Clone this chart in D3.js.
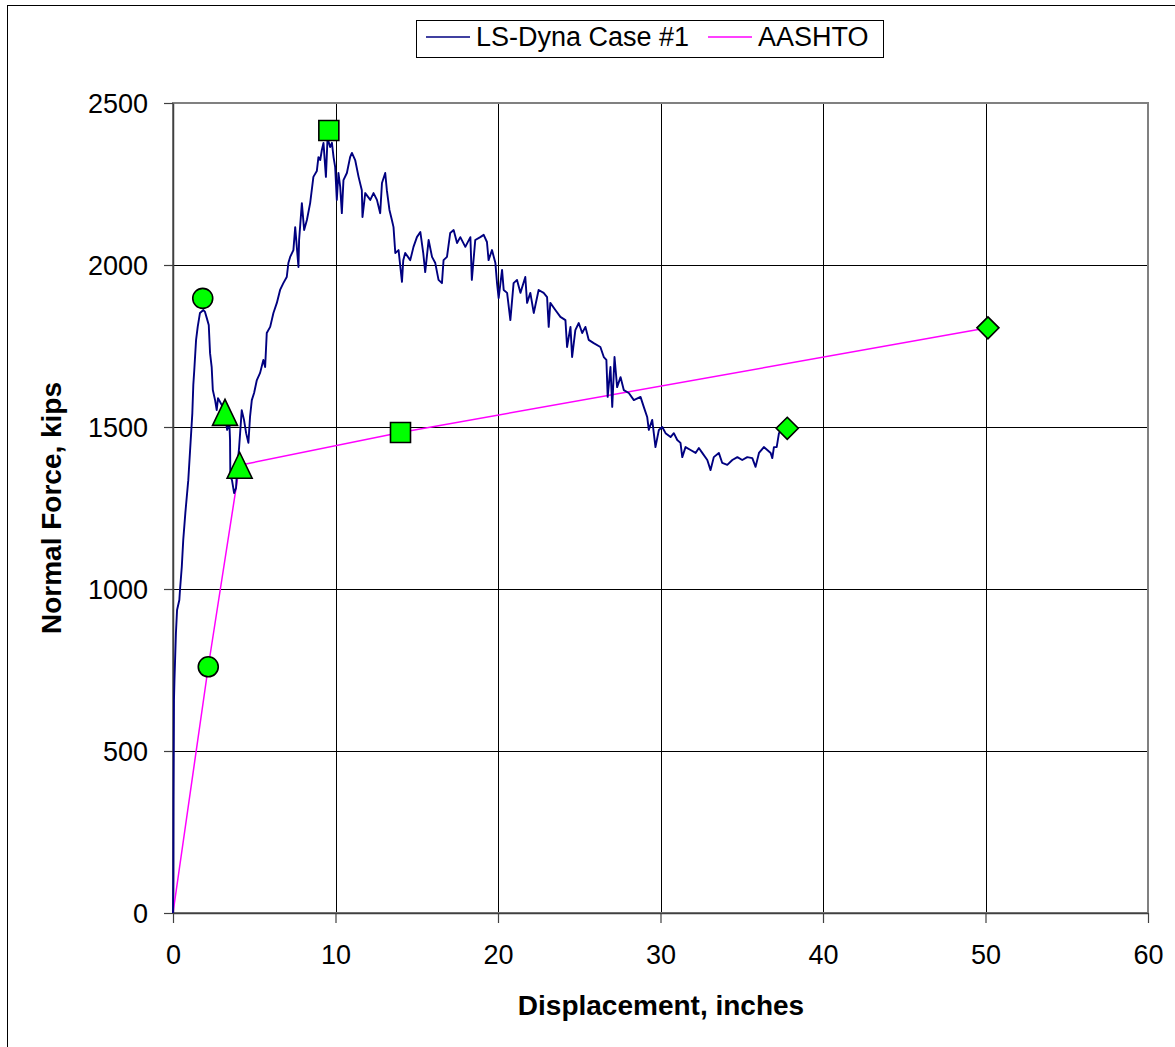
<!DOCTYPE html>
<html lang="en">
<head>
<meta charset="utf-8" />
<title>Normal Force vs Displacement</title>
<style>
  body{margin:0;background:#fff;}
  svg{display:block;font-family:"Liberation Sans",Arial,sans-serif;}
  .tick text{font-size:27px;fill:#000;}
  .axis-title{font-size:28px;font-weight:bold;fill:#000;}
  .legend-text{font-size:27px;fill:#000;}
</style>
<script src="https://cdn.jsdelivr.net/npm/d3@7.9.0/dist/d3.min.js"></script>
</head>
<body>
<div id="chart"></div>
<script>
/* ───────── DATA ───────── */
const dynaDisp = [
  0,0.02,0.03,0.06,0.09,0.18,0.25,0.39,0.43,0.54,
  0.63,0.76,0.94,1.09,1.19,1.25,1.31,1.42,1.52,1.66,
  1.87,1.97,2.08,2.20,2.28,2.38,2.45,2.59,2.69,2.77,
  2.90,3.06,3.20,3.33,3.47,3.51,3.53,3.63,3.76,3.88,
  3.94,4.07,4.23,4.37,4.50,4.64,4.74,4.85,4.99,5.16,
  5.36,5.56,5.67,5.77,5.98,6.18,6.39,6.59,6.79,7.00,
  7.10,7.21,7.41,7.52,7.72,7.76,7.93,8.07,8.24,8.44,
  8.64,8.85,8.95,9.06,9.16,9.26,9.41,9.51,9.67,9.78,
  9.88,9.98,10.08,10.18,10.29,10.39,10.49,10.70,10.90,11.01,
  11.21,11.42,11.62,11.66,11.83,12.14,12.34,12.55,12.75,12.86,
  13.06,13.16,13.32,13.47,13.57,13.68,13.88,14.09,14.17,14.29,
  14.60,14.80,15.01,15.22,15.40,15.52,15.73,15.94,16.14,16.34,
  16.55,16.65,16.86,17.06,17.27,17.48,17.68,17.99,18.30,18.39,
  18.60,18.91,19.12,19.32,19.42,19.63,19.84,19.94,20.04,20.25,
  20.35,20.56,20.76,20.96,21.17,21.38,21.68,21.79,21.99,22.20,
  22.50,22.81,23.02,23.12,23.22,23.53,23.84,24.15,24.25,24.46,
  24.56,24.76,24.97,25.18,25.38,25.58,25.89,26.30,26.51,26.67,
  26.75,26.92,27.03,27.17,27.33,27.54,27.74,28.05,28.36,28.77,
  28.97,29.18,29.28,29.49,29.69,29.90,30.11,30.31,30.62,30.82,
  31.03,31.23,31.34,31.54,31.85,32.16,32.36,32.57,32.88,33.08,
  33.28,33.59,33.80,34.11,34.42,34.73,35.03,35.34,35.65,35.85,
  36.06,36.36,36.57,36.78,36.88,36.98,37.15,37.29,37.50,37.70
];
const dynaForce = [
  0,102,349,657,719,864,935,966,997,1068,
  1151,1235,1336,1460,1543,1630,1676,1769,1809,1852,
  1861,1855,1836,1815,1728,1685,1614,1583,1552,1589,
  1577,1562,1543,1491,1512,1460,1346,1336,1296,1312,
  1367,1438,1552,1522,1481,1451,1531,1583,1605,1645,
  1667,1707,1685,1790,1809,1852,1883,1923,1944,1963,
  2006,2025,2046,2117,1994,2077,2191,2108,2139,2191,
  2272,2290,2333,2324,2355,2377,2272,2392,2364,2377,
  2333,2302,2201,2284,2241,2160,2262,2284,2333,2346,
  2324,2272,2231,2148,2222,2201,2222,2201,2160,2253,
  2284,2231,2170,2139,2117,2037,2046,1948,2015,2037,
  2015,2056,2086,2102,2037,1978,2077,2025,2006,1954,
  1944,2015,2025,2099,2108,2068,2086,2056,2086,1954,
  2077,2086,2093,2071,2015,2046,2006,1944,1898,1985,
  1923,1914,1830,1944,1954,1914,1963,1883,1914,1852,
  1923,1914,1901,1809,1883,1861,1840,1830,1747,1809,
  1716,1799,1821,1790,1809,1769,1759,1747,1716,1707,
  1593,1685,1562,1716,1623,1654,1614,1605,1583,1593,
  1562,1531,1491,1522,1438,1491,1500,1481,1469,1481,
  1460,1451,1407,1438,1429,1420,1435,1420,1398,1367,
  1407,1420,1389,1383,1398,1407,1398,1407,1404,1377,
  1420,1438,1429,1420,1404,1438,1438,1481,1491,1497
];

const aashtoDisp  = [0, 2.17, 4.10, 14.0, 50.15];
const aashtoForce = [0, 760, 1382, 1483, 1806];

// highlighted points (green markers)
const markDisp  = [1.83, 2.17, 3.20, 4.10, 9.59, 14.0, 37.80, 50.15];
const markForce = [1897, 760, 1545, 1382, 2415, 1483, 1496, 1806];
const markShape = ['circle','circle','triangle','triangle','square','square','diamond','diamond'];

const xTicks = [0,10,20,30,40,50,60];
const yTicks = [0,500,1000,1500,2000,2500];

const seriesNames = ['LS-Dyna Case #1','AASHTO'];

/* ───────── CONFIG ───────── */
const W = 1175, H = 1047;
const P = {left:173, right:1148, top:103, bottom:913};
const BLUE = '#000080', MAG = '#ff00ff', GREEN = '#00ff00';

const svg = d3.select('#chart').append('svg')
  .attr('width',W).attr('height',H);

svg.append('rect').attr('width',W).attr('height',H).attr('fill','#fff');

// outer chart frame (runs off the right/bottom edge)
svg.append('rect')
  .attr('x',7.5).attr('y',5.5).attr('width',1300).attr('height',1200)
  .attr('fill','none').attr('stroke','#000').attr('stroke-width',1);

const x = d3.scaleLinear([0,60],[P.left,P.right]);
const y = d3.scaleLinear([0,2500],[P.bottom,P.top]);

/* grid */
const grid = svg.append('g').attr('shape-rendering','crispEdges');
grid.selectAll('.hg').data(yTicks.slice(1,-1)).join('line')
  .attr('x1',P.left).attr('x2',P.right)
  .attr('y1',d=>Math.round(y(d))+0.5).attr('y2',d=>Math.round(y(d))+0.5)
  .attr('stroke','#000').attr('stroke-width',1);
grid.selectAll('.vg').data(xTicks.slice(1,-1)).join('line')
  .attr('y1',P.top).attr('y2',P.bottom)
  .attr('x1',d=>Math.round(x(d))+0.5).attr('x2',d=>Math.round(x(d))+0.5)
  .attr('stroke','#000').attr('stroke-width',1);

// plot area border (grey)
svg.append('rect')
  .attr('x',P.left).attr('y',P.top)
  .attr('width',P.right-P.left).attr('height',P.bottom-P.top)
  .attr('fill','none').attr('stroke','#808080').attr('stroke-width',2);

/* axes */
const yAxis = d3.axisLeft(y).tickValues(yTicks).tickFormat(d3.format('d'))
  .tickSize(9).tickSizeOuter(0).tickPadding(16);
const xAxis = d3.axisBottom(x).tickValues(xTicks).tickFormat(d3.format('d'))
  .tickSize(10).tickSizeOuter(0).tickPadding(22);

const gy = svg.append('g').attr('transform',`translate(${P.left},0)`).call(yAxis);
const gx = svg.append('g').attr('transform',`translate(0,${P.bottom})`).call(xAxis);
[gy,gx].forEach(g=>{
  g.select('.domain').attr('stroke','#404040').attr('stroke-width',1.5);
  g.selectAll('.tick line').attr('stroke','#404040').attr('stroke-width',1.2);
  g.selectAll('.tick text').attr('font-size',null).attr('font-family',null);
});
gy.selectAll('.tick text').attr('dy','0.36em');
gx.selectAll('.tick text').attr('dy','0.71em');

/* axis titles */
svg.append('text').attr('class','axis-title')
  .attr('x',661).attr('y',1015).attr('text-anchor','middle')
  .text('Displacement, inches');
svg.append('text').attr('class','axis-title')
  .attr('transform','translate(61,508) rotate(-90)')
  .attr('text-anchor','middle')
  .text('Normal Force, kips');

/* series lines */
const line = d3.line().x(d=>x(d[0])).y(d=>y(d[1]));
const dyna = d3.zip(dynaDisp,dynaForce);
const aashto = d3.zip(aashtoDisp,aashtoForce);

svg.append('path').datum(aashto)
  .attr('d',line).attr('fill','none')
  .attr('stroke',MAG).attr('stroke-width',1.5);

svg.append('path').datum(dyna)
  .attr('d',line).attr('fill','none')
  .attr('stroke',BLUE).attr('stroke-width',1.9)
  .attr('stroke-linejoin','round');

/* markers */
function shapePath(s){
  if(s==='circle')   return d3.symbol(d3.symbolCircle,314)();
  if(s==='square')   return 'M-10,-10H10V10H-10Z';
  if(s==='triangle') return 'M0,-13L12.5,13H-12.5Z';
  return 'M0,-11L11,0L0,11L-11,0Z';
}
const marks = d3.range(markDisp.length).map(i=>({d:markDisp[i],f:markForce[i],s:markShape[i]}));
svg.selectAll('.mark').data(marks).join('path')
  .attr('class','mark')
  .attr('transform',m=>`translate(${x(m.d)},${y(m.f)})`)
  .attr('d',m=>shapePath(m.s))
  .attr('fill',GREEN).attr('stroke','#000').attr('stroke-width',1.6);

/* legend */
const lg = svg.append('g');
lg.append('rect').attr('x',416.5).attr('y',20.5).attr('width',467).attr('height',37)
  .attr('fill','#fff').attr('stroke','#000').attr('stroke-width',1);
const legendItems = [
  {name:seriesNames[0],color:BLUE,x0:426},
  {name:seriesNames[1],color:MAG,x0:708}
];
legendItems.forEach(it=>{
  lg.append('line').attr('x1',it.x0).attr('x2',it.x0+44)
    .attr('y1',37).attr('y2',37).attr('stroke',it.color).attr('stroke-width',1.5);
  lg.append('text').attr('class','legend-text')
    .attr('x',it.x0+50).attr('y',46).text(it.name);
});
</script>
</body>
</html>
